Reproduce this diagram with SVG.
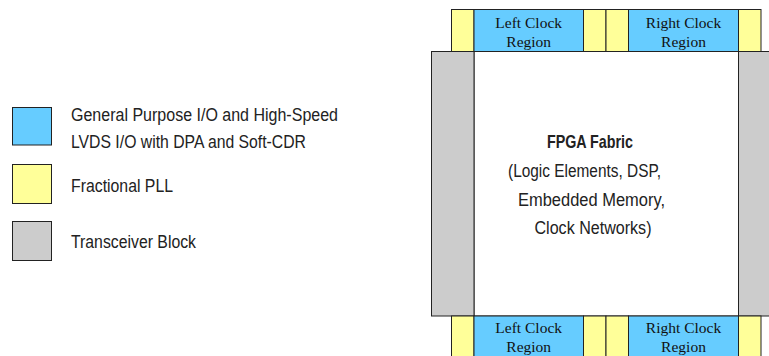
<svg xmlns="http://www.w3.org/2000/svg" width="769" height="356" viewBox="0 0 769 356">
<style>
.b{fill:#66CCFF;stroke:#222;stroke-width:1}
.y{fill:#FFFF99;stroke:#222;stroke-width:1}
.g{fill:#CCCCCC;stroke:#222;stroke-width:1}
.w{fill:#FFFFFF;stroke:#222;stroke-width:1}
.lt{font-family:"Liberation Sans Narrow","Liberation Sans",sans-serif;font-size:17.5px;fill:#222}
.ct{font-family:"Liberation Sans Narrow","Liberation Sans",sans-serif;font-size:19px;fill:#222;text-anchor:middle}
.rt{font-family:"Liberation Serif",serif;font-size:15.5px;fill:#111;text-anchor:middle}
</style>
<rect width="769" height="356" fill="#fff"/>
<g id="legend">
<g id="legend-io"><rect class="b" x="12.5" y="107.5" width="39" height="37.5"/>
<text class="lt" x="71" y="121" textLength="267" lengthAdjust="spacingAndGlyphs">General Purpose I/O and High-Speed</text>
<text class="lt" x="71" y="148" textLength="235" lengthAdjust="spacingAndGlyphs">LVDS I/O with DPA and Soft-CDR</text></g>
<g id="legend-pll"><rect class="y" x="12.5" y="164.5" width="39" height="39"/>
<text class="lt" x="71" y="191.5" textLength="102" lengthAdjust="spacingAndGlyphs">Fractional PLL</text></g>
<g id="legend-xcvr"><rect class="g" x="12.5" y="221.5" width="39" height="39"/>
<text class="lt" x="71" y="247.5" textLength="125" lengthAdjust="spacingAndGlyphs">Transceiver Block</text></g>
</g>
<g id="fabric"><rect class="w" x="474" y="51.5" width="264.5" height="264.5"/>
<text class="ct" x="590" y="148" font-weight="bold" textLength="86" lengthAdjust="spacingAndGlyphs">FPGA Fabric</text>
<text class="lt" x="508" y="176.5" textLength="153" lengthAdjust="spacingAndGlyphs">(Logic Elements, DSP,</text>
<text class="lt" x="518" y="205.5" textLength="147" lengthAdjust="spacingAndGlyphs">Embedded Memory,</text>
<text class="lt" x="534.5" y="234" textLength="117" lengthAdjust="spacingAndGlyphs">Clock Networks)</text>
</g>
<g id="xcvr-left"><rect class="g" x="431.5" y="51.5" width="42.5" height="264.5"/></g>
<g id="xcvr-right"><rect class="g" x="738.5" y="51.5" width="40" height="264.5"/></g>
<g id="top-row">
<rect class="y" x="451.5" y="9.5" width="22.5" height="42"/>
<g id="top-left-clock"><rect class="b" x="474" y="9.5" width="109.5" height="42"/>
<text class="rt" x="528.7" y="27.5">Left Clock</text><text class="rt" x="528.7" y="46.5">Region</text></g>
<rect class="y" x="583.5" y="9.5" width="22.5" height="42"/>
<rect class="y" x="606" y="9.5" width="22.5" height="42"/>
<g id="top-right-clock"><rect class="b" x="628.5" y="9.5" width="110" height="42"/>
<text class="rt" x="683.5" y="27.5">Right Clock</text><text class="rt" x="683.5" y="46.5">Region</text></g>
<rect class="y" x="738.5" y="9.5" width="22.5" height="42"/>
</g>
<g id="bottom-row">
<rect class="y" x="451.5" y="316" width="22.5" height="50"/>
<g id="bottom-left-clock"><rect class="b" x="474" y="316" width="109.5" height="50"/>
<text class="rt" x="528.7" y="332.5">Left Clock</text><text class="rt" x="528.7" y="351.5">Region</text></g>
<rect class="y" x="583.5" y="316" width="22.5" height="50"/>
<rect class="y" x="606" y="316" width="22.5" height="50"/>
<g id="bottom-right-clock"><rect class="b" x="628.5" y="316" width="110" height="50"/>
<text class="rt" x="683.5" y="332.5">Right Clock</text><text class="rt" x="683.5" y="351.5">Region</text></g>
<rect class="y" x="738.5" y="316" width="22.5" height="50"/>
</g>
<g id="connectors"></g>
</svg>
